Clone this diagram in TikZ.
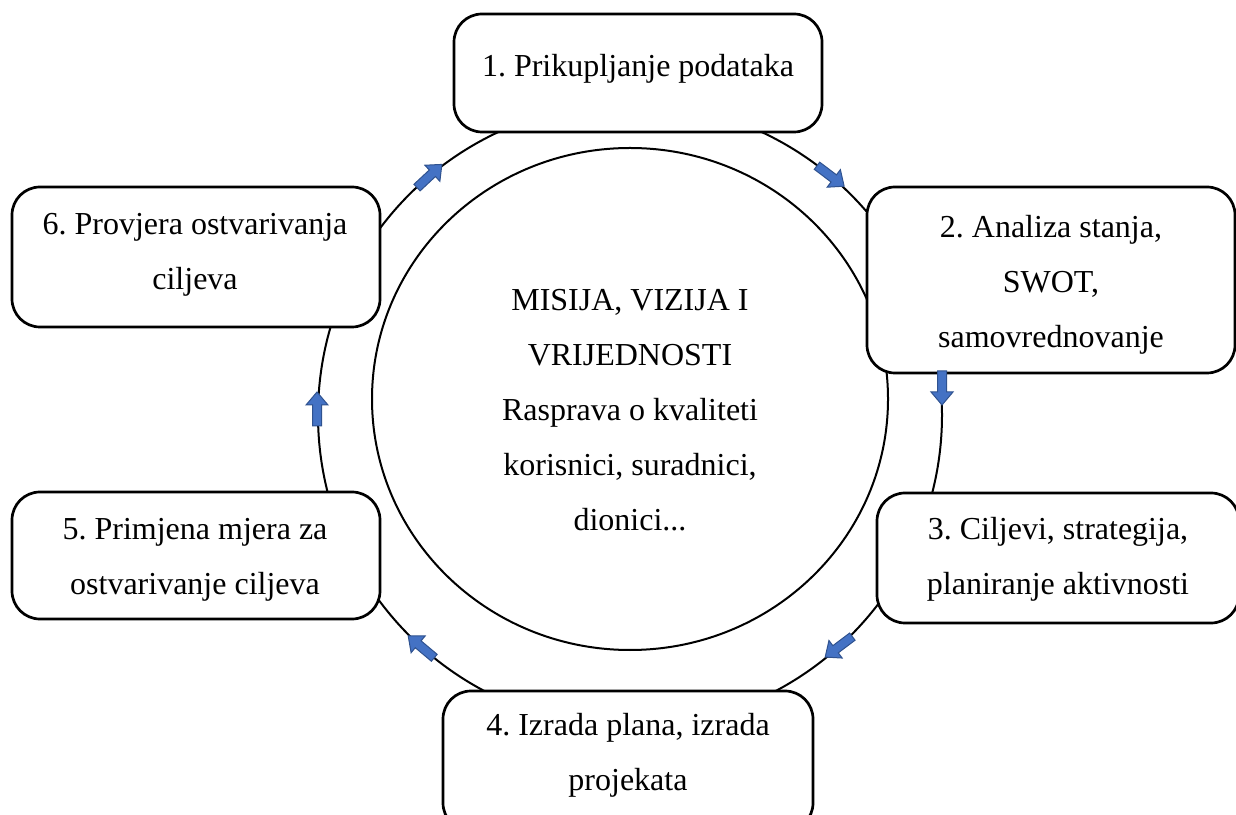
\documentclass[tikz,border=0pt]{standalone}
\usepackage{fontspec}
\setmainfont{Liberation Serif}
\frenchspacing
\usetikzlibrary{shapes.geometric}
\definecolor{arrowblue}{HTML}{4472C4}
\definecolor{arrowedge}{HTML}{2F528F}
\tikzset{
  stepbox/.style={draw, line width=2.7pt, rounded corners=28pt, fill=white, inner sep=0pt, outer sep=0pt},
  lbl/.style={align=center, anchor=base, inner sep=0pt, font=\fontsize{32}{55}\selectfont},
  ring/.style={draw, line width=2pt, inner sep=0pt, outer sep=0pt},
  flow/.style={fill=arrowblue, draw=arrowedge, line width=1pt, line join=miter},
  pics/flowarrow/.style={code={\path[flow] (-17,-4.5) -- (4,-4.5) -- (4,-11) -- (17,0) -- (4,11) -- (4,4.5) -- (-17,4.5) -- cycle;}}
}
\begin{document}
\begin{tikzpicture}[x=1pt,y=1pt]
\useasboundingbox (0,0) rectangle (1236,814);
% rings
\node[ring, circle, minimum size=624pt] (outer) at (630,399) {};
\node[ring, ellipse, minimum width=516pt, minimum height=502pt] (inner) at (630,415) {};
% boxes
\node[stepbox, minimum width=368pt, minimum height=118pt] (b1) at (638,741) {};
\node[stepbox, minimum width=368pt, minimum height=186pt] (b2) at (1051,534) {};
\node[stepbox, minimum width=362pt, minimum height=130pt] (b3) at (1058,256) {};
\node[stepbox, minimum width=370pt, minimum height=140pt] (b4) at (628,53) {};
\node[stepbox, minimum width=368pt, minimum height=127pt] (b5) at (196,258.5) {};
\node[stepbox, minimum width=368pt, minimum height=140pt] (b6) at (196,557) {};
% texts (anchored at the baseline of the last line)
\node[lbl] (t1) at (638,737) {1. Prikupljanje podataka};
\node[lbl] (t2) at (1051,466) {2. Analiza stanja,\\SWOT,\\samovrednovanje};
\node[lbl] (t3) at (1058,219) {3. Ciljevi, strategija,\\planiranje aktivnosti};
\node[lbl] (t4) at (628,24) {4. Izrada plana, izrada\\projekata};
\node[lbl] (t5) at (195,219) {5. Primjena mjera za\\ostvarivanje ciljeva};
\node[lbl] (t6) at (195,524) {6. Provjera ostvarivanja\\ciljeva};
\node[lbl] (tc) at (630,283) {MISIJA, VIZIJA I\\VRIJEDNOSTI\\Rasprava o kvaliteti\\korisnici, suradnici,\\dionici...};
% arrows
\pic[rotate=43] at (outer.130) {flowarrow};
\pic[rotate=-37] at (outer.50) {flowarrow};
\pic[rotate=-90] at (942,426) {flowarrow};
\pic[rotate=-143] at (outer.-48.8) {flowarrow};
\pic[rotate=140] at (outer.-132.9) {flowarrow};
\pic[rotate=90] at (317,405) {flowarrow};
\end{tikzpicture}
\end{document}
